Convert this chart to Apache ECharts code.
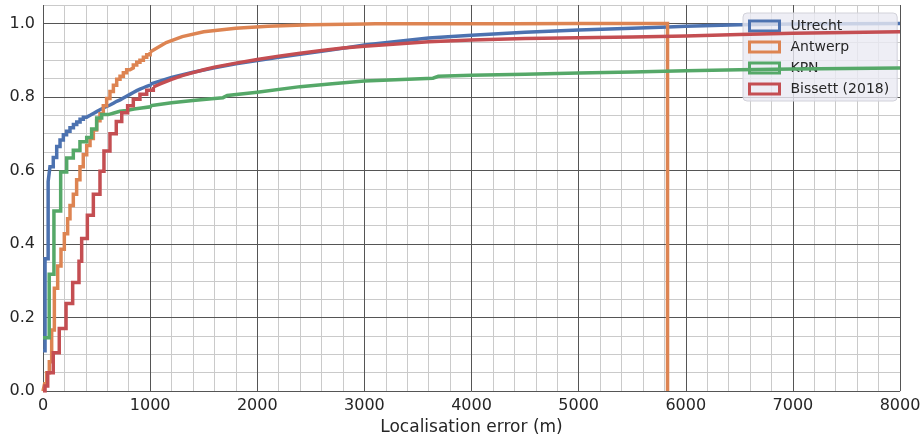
<!DOCTYPE html>
<html>
<head>
<meta charset="utf-8">
<script src="https://cdn.jsdelivr.net/npm/echarts@6/dist/echarts.min.js"></script>
<style>
html,body{margin:0;padding:0;background:#fff;}
#chart{width:924px;height:441px;}
</style>
</head>
<body>
<div id="chart"></div>
<script>
// ---- Data ----
const seriesNames = ['Utrecht', 'Antwerp', 'KPN', 'Bissett (2018)'];
const xTicks = [0, 1000, 2000, 3000, 4000, 5000, 6000, 7000, 8000];
const yTicks = [0.0, 0.2, 0.4, 0.6, 0.8, 1.0];

// Utrecht: stepped part (bin edge, cumulative fraction), then smooth tail
const utrechtStepX = [0, 19, 48, 65, 96, 128, 159, 190, 220, 252, 284, 315, 346, 377, 408, 440, 470, 501, 532, 563, 595, 626, 657, 688, 720, 750, 780, 812, 843, 875, 905, 937, 968, 1000];
const utrechtStepY = [0.11, 0.36, 0.57, 0.61, 0.635, 0.665, 0.683, 0.697, 0.707, 0.716, 0.725, 0.732, 0.739, 0.745, 0.75, 0.755, 0.76, 0.765, 0.77, 0.774, 0.778, 0.783, 0.788, 0.792, 0.797, 0.802, 0.807, 0.812, 0.817, 0.821, 0.825, 0.829, 0.832, 0.835];
const utrechtX = [1000, 1200, 1400, 1600, 1800, 2000, 2200, 2400, 2700, 3000, 3300, 3600, 4000, 4500, 5000, 5500, 5830, 6000, 6500, 7000, 7500, 8000];
const utrechtY = [0.835, 0.853, 0.867, 0.879, 0.89, 0.899, 0.908, 0.916, 0.928, 0.941, 0.951, 0.96, 0.968, 0.976, 0.982, 0.987, 0.99, 0.992, 0.996, 0.998, 0.999, 1.0];

const antwerpStepX = [0, 15, 34, 59, 81, 106, 137, 168, 199, 230, 252, 283, 314, 345, 376, 408, 439, 470, 501, 532, 563, 594, 625, 657, 688, 719, 750, 781, 812, 843, 875, 905, 937, 968, 1000];
const antwerpStepY = [0.0, 0.02, 0.05, 0.08, 0.166, 0.28, 0.34, 0.386, 0.428, 0.469, 0.505, 0.535, 0.575, 0.61, 0.643, 0.668, 0.687, 0.71, 0.735, 0.754, 0.776, 0.796, 0.815, 0.832, 0.848, 0.856, 0.866, 0.874, 0.879, 0.887, 0.894, 0.90, 0.908, 0.915, 0.922];
const antwerpX = [1000, 1150, 1300, 1500, 1800, 2100, 2500, 3000, 3100, 4400, 5000, 5830, 5830];
const antwerpY = [0.922, 0.948, 0.964, 0.977, 0.987, 0.992, 0.996, 0.998, 0.999, 0.999, 1.0, 1.0, 0.0];

const kpnStepX = [0, 58, 102, 165, 221, 283, 345, 408, 454, 501, 548, 610, 670, 719, 780, 850, 920, 1000];
const kpnStepY = [0.145, 0.318, 0.49, 0.596, 0.634, 0.655, 0.678, 0.69, 0.713, 0.743, 0.752, 0.757, 0.761, 0.763, 0.767, 0.77, 0.773, 0.776];
const kpnX = [1000, 1200, 1400, 1600, 1680, 1720, 2000, 2400, 2700, 3000, 3640, 3690, 4000, 4500, 5000, 5500, 6000, 6500, 7000, 8000];
const kpnY = [0.776, 0.784, 0.79, 0.796, 0.798, 0.804, 0.813, 0.828, 0.836, 0.843, 0.851, 0.856, 0.859, 0.862, 0.865, 0.868, 0.871, 0.874, 0.876, 0.879];

const bissettStepX = [0, 19, 44, 96, 152, 215, 277, 336, 361, 414, 470, 532, 569, 625, 684, 735, 790, 843, 905, 968, 1030];
const bissettStepY = [0.0, 0.014, 0.05, 0.104, 0.17, 0.238, 0.295, 0.353, 0.415, 0.478, 0.535, 0.598, 0.653, 0.70, 0.733, 0.757, 0.776, 0.794, 0.807, 0.818, 0.827];
const bissettX = [1030, 1100, 1200, 1300, 1400, 1500, 1600, 1800, 2000, 2200, 2400, 2600, 2800, 3000, 3300, 3600, 4000, 4500, 5000, 5500, 6000, 6500, 7000, 7500, 8000];
const bissettY = [0.827, 0.836, 0.848, 0.858, 0.866, 0.874, 0.881, 0.892, 0.902, 0.911, 0.919, 0.926, 0.933, 0.938, 0.944, 0.95, 0.955, 0.959, 0.961, 0.963, 0.966, 0.970, 0.973, 0.975, 0.977];

const colors = ['#4c72b0', '#dd8452', '#55a868', '#c44e52'];

// ---- Build ----
const pairs = (xs, ys) => xs.map((x, i) => [x, ys[i]]);
const groups = [
  [utrechtStepX, utrechtStepY, utrechtX, utrechtY],
  [antwerpStepX, antwerpStepY, antwerpX, antwerpY],
  [kpnStepX, kpnStepY, kpnX, kpnY],
  [bissettStepX, bissettStepY, bissettX, bissettY]
];
const series = [];
groups.forEach((g, i) => {
  const base = {
    name: seriesNames[i], type: 'line', showSymbol: false, symbol: 'none',
    color: colors[i], lineStyle: {width: 3.5, color: colors[i], join: 'miter'},
    itemStyle: {color: colors[i]}, animation: false, z: 2 + i
  };
  series.push(Object.assign({}, base, {step: 'end', data: pairs(g[0], g[1])}));
  series.push(Object.assign({}, base, {data: pairs(g[2], g[3])}));
});

const font = 'DejaVu Sans';
const isMajor = v => Math.abs(v / 0.2 - Math.round(v / 0.2)) < 1e-6 && v <= 1.0001;

const chart = echarts.init(document.getElementById('chart'), null, {renderer: 'canvas'});
chart.setOption({
  animation: false,
  backgroundColor: '#ffffff',
  grid: {left: 43, right: 24, top: 5, bottom: 44, containLabel: false},
  legend: {
    orient: 'vertical', left: 743, top: 13,
    backgroundColor: 'rgba(234,234,242,0.8)', borderColor: '#d2d2da', borderWidth: 1, borderRadius: 4,
    padding: [5, 8, 4, 5], itemWidth: 30, itemHeight: 10, itemGap: 5,
    icon: 'rect',
    textStyle: {fontFamily: font, fontSize: 14, color: '#262626', padding: [0, 0, 0, 6], lineHeight: 16},
    data: seriesNames.map((n, i) => ({name: n, icon: 'rect',
      itemStyle: {color: 'rgba(0,0,0,0)', borderColor: colors[i], borderWidth: 3}}))
  },
  xAxis: {
    type: 'value', min: xTicks[0], max: xTicks[xTicks.length - 1], interval: 1000,
    name: 'Localisation error (m)', nameLocation: 'middle', nameGap: 27,
    nameTextStyle: {fontFamily: font, fontSize: 17, color: '#262626'},
    axisLine: {show: false}, axisTick: {show: false},
    axisLabel: {fontFamily: font, fontSize: 16, color: '#262626', margin: 7,
      formatter: v => String(Math.round(v))},
    splitLine: {show: true, lineStyle: {color: '#555555', width: 1}},
    minorTick: {show: false, splitNumber: 5},
    minorSplitLine: {show: true, lineStyle: {color: '#cacaca', width: 1}}
  },
  yAxis: [{
    type: 'value', min: 0, max: 1.05, interval: 0.2, z: 1,
    axisLine: {show: false}, axisTick: {show: false},
    axisLabel: {fontFamily: font, fontSize: 16, color: '#262626', margin: 8,
      formatter: v => isMajor(v) ? v.toFixed(1) : ''},
    splitLine: {show: true, lineStyle: {width: 1,
      color: ['#555555', '#555555', '#555555', '#555555', '#555555', '#555555', 'rgba(0,0,0,0)']}}
  }, {
    type: 'value', min: 0, max: 1.05, interval: 0.05, z: 0, position: 'left',
    axisLine: {show: false}, axisTick: {show: false}, axisLabel: {show: false},
    splitLine: {show: true, lineStyle: {color: '#cacaca', width: 1}}
  }],
  series: series
});
</script>
</body>
</html>
